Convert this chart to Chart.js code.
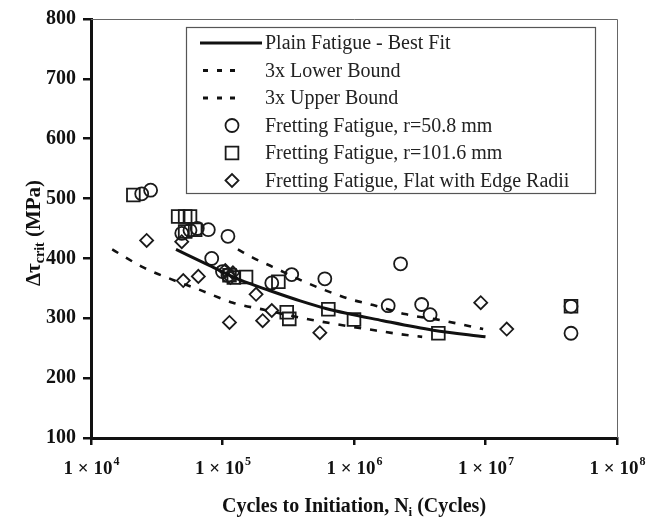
<!DOCTYPE html>
<html lang="en">
<head>
    <meta charset="UTF-8">
    <title>Fretting Fatigue Initiation</title>
    <script src="https://cdn.jsdelivr.net/npm/chart.js"></script>
    <style>
        body { margin: 0; background: #fff; }
        #chart-container { width: 648px; height: 519px; }
    </style>
</head>
<body>
<div id="chart-container">
    <canvas id="fatigueChart" width="648" height="519"></canvas>
</div>
<script>
    // axis ticks
    const xTickVals = [1e4, 1e5, 1e6, 1e7, 1e8];
    const xTickExps = ['4', '5', '6', '7', '8'];
    const yTickMin = 100, yTickMax = 800, yTickStep = 100;

    // curves (cycles, MPa)
    const fitN = [4.43e4, 8.0e4, 1.36e5, 2.3e5, 3.9e5, 6.2e5, 1.66e6, 4.0e6, 1.0e7];
    const fitS = [415, 388, 364, 346, 329, 316, 296, 280, 269];
    const lowN = [1.45e4, 2.5e4, 4.1e4, 6.8e4, 1.2e5, 2.1e5, 3.9e5, 7.4e5, 1.25e6, 2.5e6, 3.3e6];
    const lowS = [415, 385, 365, 347, 326, 314, 301, 290, 282, 272, 269];
    const upN = [1.31e5, 1.71e5, 2.4e5, 4.1e5, 5.85e5, 9.3e5, 1.4e6, 2.44e6, 4.78e6, 9.6e6];
    const upS = [415, 401, 386, 362, 348, 332, 322, 307, 296, 282];

    // fretting tests, r = 50.8 mm
    const r51N = [2.43e4, 2.84e4, 4.9e4, 5.66e4, 6.43e4, 7.8e4, 1.1e5, 8.28e4, 1.0e5, 1.1e5, 2.37e5, 3.36e5, 6.0e5, 2.26e6, 1.82e6, 3.27e6, 3.79e6, 4.47e7, 4.47e7];
    const r51S = [508, 514, 442, 447, 450, 448, 437, 400, 378, 372, 359, 373, 366, 391, 321, 323, 306, 275, 320];
    // fretting tests, r = 101.6 mm
    const r102N = [2.1e4, 4.6e4, 5.2e4, 5.66e4, 5.2e4, 6.2e4, 1.13e5, 1.22e5, 1.51e5, 2.66e5, 3.08e5, 3.22e5, 6.38e5, 1.0e6, 4.38e6, 4.47e7];
    const r102S = [506, 470, 470, 470, 445, 448, 372, 368, 369, 361, 310, 299, 315, 298, 275, 320];
    // flat pad with edge radii
    const flatN = [2.65e4, 4.9e4, 5.03e4, 6.55e4, 1.05e5, 1.2e5, 1.15e5, 1.8e5, 1.13e5, 2.37e5, 2.02e5, 5.5e5, 9.2e6, 1.45e7];
    const flatS = [430, 428, 363, 370, 380, 376, 368, 340, 293, 313, 296, 276, 326, 282];

    const legendLabels = [
        'Plain Fatigue - Best Fit',
        '3x Lower Bound',
        '3x Upper Bound',
        'Fretting Fatigue, r=50.8 mm',
        'Fretting Fatigue, r=101.6 mm',
        'Fretting Fatigue, Flat with Edge Radii'
    ];

    const pts = (xs, ys) => xs.map((x, i) => ({ x: x, y: ys[i] }));
    const serif = '"Liberation Serif", "Times New Roman", serif';

    function lineSet(xs, ys, dash) {
        return {
            data: pts(xs, ys), showLine: true, pointRadius: 0,
            borderColor: '#111', borderWidth: dash ? 2.6 : 3,
            borderDash: dash ? [7, 9] : [], cubicInterpolationMode: 'monotone', fill: false
        };
    }
    function markSet(xs, ys, style, r) {
        return {
            data: pts(xs, ys), showLine: false, pointStyle: style, pointRadius: r,
            pointBorderWidth: 1.8, pointBackgroundColor: 'rgba(0,0,0,0)', pointBorderColor: '#1a1a1a'
        };
    }

    const decor = {
        id: 'decor',
        afterDraw(chart) {
            const ctx = chart.ctx, a = chart.chartArea, xs = chart.scales.x;
            ctx.save();
            // thin top / right frame
            ctx.strokeStyle = '#666'; ctx.lineWidth = 1;
            ctx.beginPath();
            ctx.moveTo(a.left, a.top + 0.5); ctx.lineTo(a.right + 0.5, a.top + 0.5); ctx.lineTo(a.right + 0.5, a.bottom);
            ctx.stroke();

            // x tick labels 1 x 10^n
            ctx.fillStyle = '#111'; ctx.textBaseline = 'alphabetic';
            xTickVals.forEach((v, i) => {
                const base = '1 \u00d7 10';
                ctx.font = 'bold 19px ' + serif;
                const w1 = ctx.measureText(base).width;
                ctx.font = 'bold 12px ' + serif;
                const w2 = ctx.measureText(xTickExps[i]).width;
                const x0 = xs.getPixelForValue(v) - (w1 + w2) / 2;
                ctx.font = 'bold 19px ' + serif;
                ctx.textAlign = 'left';
                ctx.fillText(base, x0, 474);
                ctx.font = 'bold 12px ' + serif;
                ctx.fillText(xTickExps[i], x0 + w1 + 1, 465);
            });

            // x title
            const xa = 'Cycles to Initiation, N', xb = 'i', xc = ' (Cycles)';
            ctx.font = 'bold 20px ' + serif;
            const wa = ctx.measureText(xa).width, wc = ctx.measureText(xc).width;
            ctx.font = 'bold 13px ' + serif;
            const wb = ctx.measureText(xb).width;
            let tx = (a.left + a.right) / 2 - (wa + wb + wc) / 2;
            ctx.font = 'bold 20px ' + serif; ctx.fillText(xa, tx, 512);
            ctx.font = 'bold 13px ' + serif; ctx.fillText(xb, tx + wa, 516);
            ctx.font = 'bold 20px ' + serif; ctx.fillText(xc, tx + wa + wb, 512);

            // y title, rotated
            ctx.save();
            ctx.translate(40, 233);
            ctx.rotate(-Math.PI / 2);
            const ya = '\u0394\u03c4', yb = 'crit', yc = ' (MPa)';
            ctx.font = 'bold 21px ' + serif;
            const ua = ctx.measureText(ya).width, uc = ctx.measureText(yc).width;
            ctx.font = 'bold 14px ' + serif;
            const ub = ctx.measureText(yb).width;
            let ty = -(ua + ub + uc) / 2;
            ctx.font = 'bold 21px ' + serif; ctx.fillText(ya, ty, 0);
            ctx.font = 'bold 14px ' + serif; ctx.fillText(yb, ty + ua, 4);
            ctx.font = 'bold 21px ' + serif; ctx.fillText(yc, ty + ua + ub, 0);
            ctx.restore();

            // legend box
            ctx.strokeStyle = '#555'; ctx.lineWidth = 1.2; ctx.setLineDash([]);
            ctx.fillStyle = '#fff';
            ctx.fillRect(186.5, 27.5, 409, 166);
            ctx.strokeRect(186.5, 27.5, 409, 166);
            const rows = [43, 70.5, 98, 125.5, 153, 180.5];
            ctx.strokeStyle = '#111'; ctx.lineWidth = 3;
            ctx.beginPath(); ctx.moveTo(200, rows[0]); ctx.lineTo(262, rows[0]); ctx.stroke();
            [1, 2].forEach(r => {
                [203, 217, 230].forEach(dx => {
                    ctx.beginPath(); ctx.moveTo(dx, rows[r]); ctx.lineTo(dx + 5, rows[r]); ctx.stroke();
                });
            });
            const marks = [['circle', 6.5], ['rect', 9], ['rectRot', 6.5]];
            ctx.lineWidth = 1.8; ctx.strokeStyle = '#1a1a1a'; ctx.fillStyle = 'rgba(0,0,0,0)';
            marks.forEach((m, i) => {
                Chart.helpers.drawPoint(ctx, { pointStyle: m[0], radius: m[1], borderWidth: 1.8, rotation: 0 }, 232, rows[i + 3]);
            });
            ctx.fillStyle = '#222'; ctx.font = '20px ' + serif; ctx.textBaseline = 'middle'; ctx.textAlign = 'left';
            legendLabels.forEach((t, i) => ctx.fillText(t, 265, rows[i] + 1));
            ctx.restore();
        }
    };

    new Chart(document.getElementById('fatigueChart'), {
        type: 'scatter',
        data: {
            datasets: [
                lineSet(fitN, fitS, false),
                lineSet(lowN, lowS, true),
                lineSet(upN, upS, true),
                markSet(r51N, r51S, 'circle', 6.5),
                markSet(r102N, r102S, 'rect', 9),
                markSet(flatN, flatS, 'rectRot', 6.5)
            ]
        },
        options: {
            responsive: false,
            animation: false,
            layout: { padding: { left: 0, top: 16, right: 31, bottom: 0 } },
            plugins: { legend: { display: false }, tooltip: { enabled: false } },
            scales: {
                x: {
                    type: 'logarithmic', min: 1e4, max: 1e8,
                    afterBuildTicks: s => { s.ticks = xTickVals.map(v => ({ value: v })); },
                    afterFit: s => { s.height = 81; },
                    ticks: { display: false },
                    grid: { drawOnChartArea: false, drawTicks: true, tickLength: 7, color: '#111', lineWidth: 2.5 },
                    border: { color: '#111', width: 3 }
                },
                y: {
                    min: yTickMin, max: yTickMax,
                    afterFit: s => { s.width = 91; },
                    ticks: { stepSize: yTickStep, padding: 7, color: '#111', font: { family: serif, size: 20, weight: 'bold' } },
                    grid: { drawOnChartArea: false, drawTicks: true, tickLength: 8, color: '#111', lineWidth: 2.5 },
                    border: { color: '#111', width: 3 }
                }
            }
        },
        plugins: [decor]
    });
</script>
</body>
</html>
